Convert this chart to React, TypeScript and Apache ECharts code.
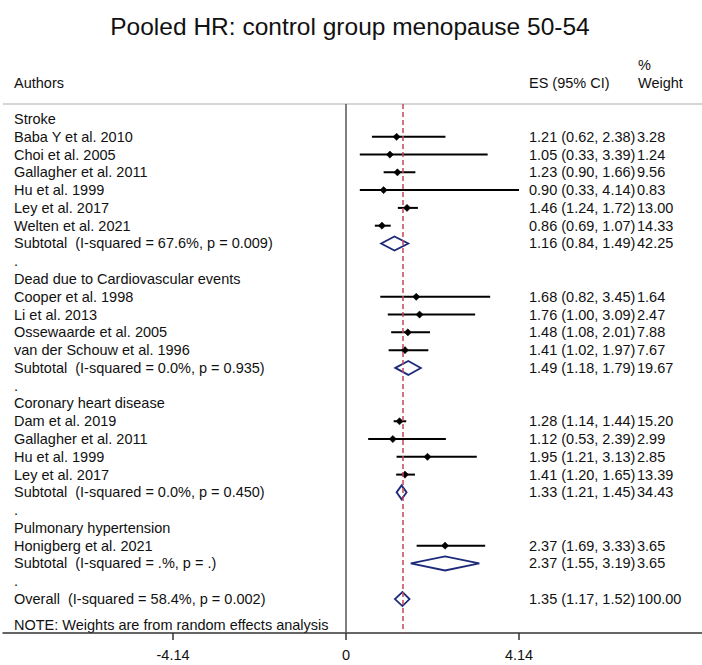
import React, { useEffect, useRef } from "react";
import * as echarts from "echarts";

const FONT = "'Liberation Sans', Arial, Helvetica, sans-serif";

const rowLabels: string[] = [
  "Stroke",
  "Baba Y et al. 2010",
  "Choi et al. 2005",
  "Gallagher et al. 2011",
  "Hu et al. 1999",
  "Ley et al. 2017",
  "Welten et al. 2021",
  "Subtotal  (I-squared = 67.6%, p = 0.009)",
  ".",
  "Dead due to Cardiovascular events",
  "Cooper et al. 1998",
  "Li et al. 2013",
  "Ossewaarde et al. 2005",
  "van der Schouw et al. 1996",
  "Subtotal  (I-squared = 0.0%, p = 0.935)",
  ".",
  "Coronary heart disease",
  "Dam et al. 2019",
  "Gallagher et al. 2011",
  "Hu et al. 1999",
  "Ley et al. 2017",
  "Subtotal  (I-squared = 0.0%, p = 0.450)",
  ".",
  "Pulmonary hypertension",
  "Honigberg et al. 2021",
  "Subtotal  (I-squared = .%, p = .)",
  ".",
  "Overall  (I-squared = 58.4%, p = 0.002)",
];

// h = heading, s = study, d = pooled (diamond), b = blank
const rowTypes: string[] = [
  "h", "s", "s", "s", "s", "s", "s", "d", "b",
  "h", "s", "s", "s", "s", "d", "b",
  "h", "s", "s", "s", "s", "d", "b",
  "h", "s", "d", "b",
  "d",
];

const esValues: (number | null)[] = [
  null, 1.21, 1.05, 1.23, 0.9, 1.46, 0.86, 1.16, null,
  null, 1.68, 1.76, 1.48, 1.41, 1.49, null,
  null, 1.28, 1.12, 1.95, 1.41, 1.33, null,
  null, 2.37, 2.37, null,
  1.35,
];
const ciLow: (number | null)[] = [
  null, 0.62, 0.33, 0.9, 0.33, 1.24, 0.69, 0.84, null,
  null, 0.82, 1.0, 1.08, 1.02, 1.18, null,
  null, 1.14, 0.53, 1.21, 1.2, 1.21, null,
  null, 1.69, 1.55, null,
  1.17,
];
const ciHigh: (number | null)[] = [
  null, 2.38, 3.39, 1.66, 4.14, 1.72, 1.07, 1.49, null,
  null, 3.45, 3.09, 2.01, 1.97, 1.79, null,
  null, 1.44, 2.39, 3.13, 1.65, 1.45, null,
  null, 3.33, 3.19, null,
  1.52,
];
const weights: (number | null)[] = [
  null, 3.28, 1.24, 9.56, 0.83, 13.0, 14.33, 42.25, null,
  null, 1.64, 2.47, 7.88, 7.67, 19.67, null,
  null, 15.2, 2.99, 2.85, 13.39, 34.43, null,
  null, 3.65, 3.65, null,
  100.0,
];

const tickValues: number[] = [-4.14, 0, 4.14];
const overallEs = 1.35;

const titleText = "Pooled HR: control group menopause 50-54";
const noteText = "NOTE: Weights are from random effects analysis";

export default function App() {
  const ref = useRef<HTMLDivElement>(null);

  useEffect(() => {
    if (!ref.current) return;
    const chart = echarts.init(ref.current, undefined, { renderer: "svg" });
    const fs = 14.5;
    const navy = "#1c2a7a";

    const renderItem = (params: any, api: any) => {
      const i = params.dataIndex;
      const y = api.coord([0, i])[1];
      const children: any[] = [];
      children.push({
        type: "text",
        style: {
          x: 14,
          y,
          text: rowLabels[i],
          fill: "#111",
          fontSize: fs,
          fontFamily: FONT,
          verticalAlign: "middle",
          align: "left",
        },
      });
      const t = rowTypes[i];
      const es = esValues[i];
      const lo = ciLow[i];
      const hi = ciHigh[i];
      if (es != null && lo != null && hi != null) {
        const xe = api.coord([es, i])[0];
        const xl = api.coord([lo, i])[0];
        const xh = api.coord([hi, i])[0];
        if (t === "s") {
          children.push({
            type: "line",
            shape: { x1: xl, y1: y, x2: xh, y2: y },
            style: { stroke: "#000", lineWidth: 2 },
          });
          const m = 3.6;
          children.push({
            type: "polygon",
            shape: { points: [[xe - m, y], [xe, y - m], [xe + m, y], [xe, y + m]] },
            style: { fill: "#000", stroke: "#000", lineWidth: 0.5 },
          });
        } else if (t === "d") {
          const h = 7;
          children.push({
            type: "polygon",
            shape: { points: [[xl, y], [xe, y - h], [xh, y], [xe, y + h]] },
            style: { fill: "none", stroke: navy, lineWidth: 1.8 },
          });
        }
        children.push({
          type: "text",
          style: {
            x: 529,
            y,
            text: `${es.toFixed(2)} (${lo.toFixed(2)}, ${hi.toFixed(2)})`,
            fill: "#111",
            fontSize: fs,
            fontFamily: FONT,
            verticalAlign: "middle",
            align: "left",
          },
        });
        const w = weights[i];
        if (w != null) {
          children.push({
            type: "text",
            style: {
              x: 637,
              y,
              text: w.toFixed(2),
              fill: "#111",
              fontSize: fs,
              fontFamily: FONT,
              verticalAlign: "middle",
              align: "left",
            },
          });
        }
      }
      return { type: "group", children };
    };

    const option: any = {
      animation: false,
      backgroundColor: "#fff",
      grid: { left: 3, right: 0, top: 104, bottom: 32 },
      xAxis: {
        type: "value",
        min: -8.21,
        max: 8.52,
        splitLine: { show: false },
        axisLine: { show: true, onZero: false, lineStyle: { color: "#333", width: 1.5 } },
        axisTick: {
          show: true,
          customValues: tickValues,
          length: 7,
          lineStyle: { color: "#333", width: 1.5 },
        },
        axisLabel: {
          customValues: tickValues,
          margin: 14,
          fontSize: fs,
          fontFamily: FONT,
          color: "#111",
          formatter: (v: number) => String(v),
        },
      },
      yAxis: {
        type: "value",
        inverse: true,
        min: -0.844,
        max: 28.91,
        show: false,
      },
      graphic: [
        {
          type: "text",
          style: {
            x: 350,
            y: 26,
            text: titleText,
            fontSize: 24.5,
            fontFamily: FONT,
            fill: "#111",
            align: "center",
            verticalAlign: "middle",
          },
        },
        {
          type: "text",
          style: { x: 14, y: 83, text: "Authors", fontSize: fs, fontFamily: FONT, fill: "#111", verticalAlign: "middle" },
        },
        {
          type: "text",
          style: { x: 529, y: 83, text: "ES (95% CI)", fontSize: fs, fontFamily: FONT, fill: "#111", verticalAlign: "middle" },
        },
        {
          type: "text",
          style: { x: 638, y: 65, text: "%", fontSize: fs, fontFamily: FONT, fill: "#111", verticalAlign: "middle" },
        },
        {
          type: "text",
          style: { x: 638, y: 83, text: "Weight", fontSize: fs, fontFamily: FONT, fill: "#111", verticalAlign: "middle" },
        },
        {
          type: "line",
          shape: { x1: 3, y1: 104, x2: 702, y2: 104 },
          style: { stroke: "#c8c8c8", lineWidth: 1.5 },
        },
        {
          type: "text",
          style: { x: 14, y: 625, text: noteText, fontSize: fs, fontFamily: FONT, fill: "#111", verticalAlign: "middle" },
        },
      ],
      series: [
        {
          type: "scatter",
          data: [[0, 0]],
          symbolSize: 0,
          silent: true,
          markLine: {
            silent: true,
            symbol: ["none", "none"],
            label: { show: false },
            data: [
              { xAxis: 0, lineStyle: { color: "#555", width: 1.5, type: "solid" } },
              { xAxis: overallEs, lineStyle: { color: "#c0485a", width: 1.5, type: [5, 3] } },
            ],
          },
        },
        {
          type: "custom",
          renderItem,
          clip: false,
          encode: { x: 0, y: 1 },
          data: rowLabels.map((_, i) => [0, i]),
          silent: true,
        },
      ],
    };
    chart.setOption(option);
    return () => chart.dispose();
  }, []);

  return (
    <div
      ref={ref}
      style={{ position: "fixed", left: 0, top: 0, width: 702, height: 665 }}
    />
  );
}
